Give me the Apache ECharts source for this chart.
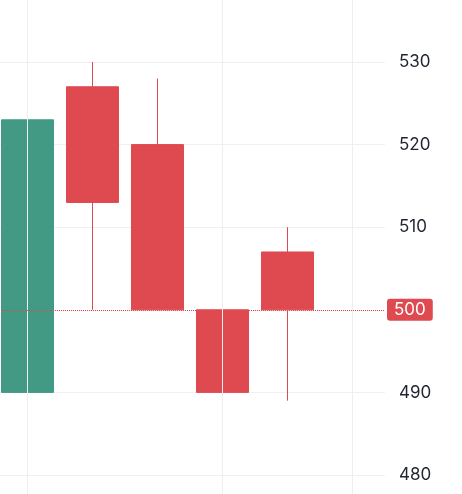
<!DOCTYPE html><html><head><meta charset="utf-8"><script src="https://cdn.jsdelivr.net/npm/echarts@6/dist/echarts.min.js"></script>
<style>html,body{margin:0;padding:0;background:#fff}#c{width:462px;height:494px}</style></head><body><div id="c"></div><script>
const categories=['1','2','3','4','5','6'];
const candles=[[490,523,482,524],[527,513,500,530],[520,500,500,528],[500,490,481,508],[507,500,489,510]];
const priceLine=500;
const vLines=[0,3,5];
const chart=echarts.init(document.getElementById('c'));
chart.setOption({animation:false,
grid:{left:-5,right:77,top:-20.6,bottom:-63.6,outerBoundsMode:'none',containLabel:false},
xAxis:{type:'category',data:categories,boundaryGap:true,axisLine:{show:false},axisTick:{show:false},axisLabel:{show:false},splitLine:{show:false}},
yAxis:{type:'value',position:'right',min:470,max:540,interval:10,axisLine:{show:false},axisTick:{show:false},
 axisLabel:{color:'#1f2430',fontSize:17,fontFamily:'Inter',margin:14},splitLine:{lineStyle:{color:'#f0f0f2'}}},
series:[
{type:'line',data:[],z:0,markLine:{symbol:'none',silent:true,lineStyle:{color:'#eeeef0',type:'solid',width:1},label:{show:false},data:vLines.map(v=>({xAxis:v}))}},
{type:'candlestick',data:candles,barWidth:'80%',z:2,
 itemStyle:{color:'#429a84',color0:'#df4950',borderColor:'#429a84',borderColor0:'#df4950',borderWidth:1},
 markLine:{symbol:'none',silent:true,lineStyle:{color:'#df4950',type:'dotted',width:1},
  label:{show:true,position:'end',formatter:'{c}',color:'#fff',backgroundColor:'#df4950',fontSize:17,fontFamily:'Inter',padding:[3,7,2,7],borderRadius:3,distance:2},
  data:[{yAxis:priceLine}]}}]});
</script></body></html>
